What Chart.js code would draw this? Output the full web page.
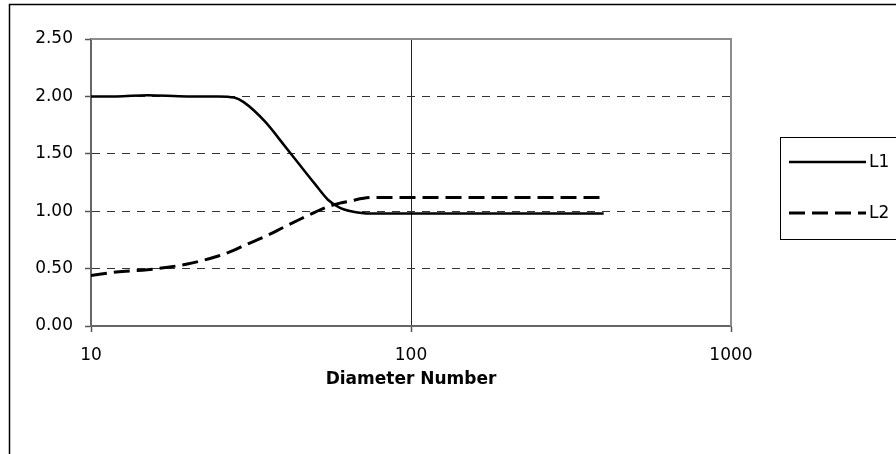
<!DOCTYPE html>
<html>
<head>
<meta charset="utf-8">
<title>Diameter Number</title>
<script src="https://cdn.jsdelivr.net/npm/chart.js@4.4.1/dist/chart.umd.min.js"></script>
<style>
    body { margin: 0; background: #ffffff; }
    #wrap { width: 896px; height: 454px; }
</style>
</head>
<body>
<div id="wrap"><canvas id="diamChart" width="896" height="454"></canvas></div>
<script>
// Valores (eje x logaritmico)
const diameters = [10, 12, 15, 20, 25, 28, 30, 35, 40, 45, 50, 55, 60, 65, 70, 75, 80, 100, 150, 200, 300, 400];
const l1Values = [2.00, 2.00, 2.01, 2.00, 2.00, 1.99, 1.95, 1.78, 1.58, 1.40, 1.24, 1.10, 1.03, 1.00, 0.985, 0.98, 0.98, 0.98, 0.98, 0.98, 0.98, 0.98];
const l2Values = [0.44, 0.47, 0.49, 0.54, 0.61, 0.66, 0.70, 0.78, 0.86, 0.93, 0.99, 1.04, 1.07, 1.09, 1.11, 1.12, 1.12, 1.12, 1.12, 1.12, 1.12, 1.12];
const xTicks = [10, 100, 1000];
const seriesNames = ['L1', 'L2'];

const FONT = "'DejaVu Sans', sans-serif";
const FONT_SIZE = 17;

function toPoints(values) {
    return diameters.map((d, i) => ({ x: d, y: values[i] }));
}

// Marco exterior, borde superior/derecho del area y leyenda con recuadro
const framePlugin = {
    id: 'frame',
    afterDraw(chart) {
        const ctx = chart.ctx;
        const area = chart.chartArea;
        ctx.save();

        // borde gris del area de trazado (arriba y derecha)
        ctx.strokeStyle = '#8c8c8c';
        ctx.lineWidth = 2;
        ctx.beginPath();
        ctx.moveTo(area.left, area.top);
        ctx.lineTo(area.right, area.top);
        ctx.lineTo(area.right, area.bottom);
        ctx.stroke();

        // marco exterior del grafico
        ctx.strokeStyle = '#000000';
        ctx.lineWidth = 1.5;
        ctx.strokeRect(9.5, 4.5, 1000, 1000);

        // leyenda
        ctx.lineWidth = 1;
        ctx.strokeRect(780.5, 137.5, 200, 102);
        const rows = [162, 213];
        chart.data.datasets.forEach((ds, i) => {
            ctx.strokeStyle = ds.borderColor;
            ctx.lineWidth = ds.borderWidth;
            ctx.setLineDash(ds.borderDash || []);
            ctx.beginPath();
            ctx.moveTo(789, rows[i]);
            ctx.lineTo(866, rows[i]);
            ctx.stroke();
            ctx.setLineDash([]);
            ctx.fillStyle = '#000000';
            ctx.font = FONT_SIZE + 'px ' + FONT;
            ctx.textAlign = 'left';
            ctx.textBaseline = 'middle';
            ctx.fillText(ds.label, 869, rows[i] + 1);
        });
        ctx.restore();
    }
};

const ctx = document.getElementById('diamChart').getContext('2d');
const diamChart = new Chart(ctx, {
    type: 'line',
    data: {
        datasets: [{
            label: seriesNames[0],
            data: toPoints(l1Values),
            borderColor: '#000000',
            borderWidth: 2.5,
            pointRadius: 0,
            cubicInterpolationMode: 'monotone',
            fill: false
        }, {
            label: seriesNames[1],
            data: toPoints(l2Values),
            borderColor: '#000000',
            borderWidth: 3,
            borderDash: [16, 7],
            pointRadius: 0,
            cubicInterpolationMode: 'monotone',
            fill: false
        }]
    },
    options: {
        responsive: false,
        animation: false,
        layout: {
            padding: { top: 39, right: 165, bottom: 64, left: 0 }
        },
        plugins: {
            legend: { display: false },
            tooltip: { enabled: false }
        },
        scales: {
            x: {
                type: 'logarithmic',
                min: 10,
                max: 1000,
                afterBuildTicks: (scale) => {
                    scale.ticks = xTicks.map(v => ({ value: v }));
                },
                afterFit: (scale) => { scale.height = 64; },
                ticks: {
                    color: '#000000',
                    font: { family: FONT, size: FONT_SIZE },
                    padding: 13,
                    maxRotation: 0,
                    autoSkip: false,
                    callback: (v) => String(v)
                },
                grid: {
                    color: '#222222',
                    lineWidth: 1,
                    tickLength: 6,
                    tickColor: '#555555',
                    tickWidth: 1.5
                },
                border: { color: '#666666', width: 2 },
                title: {
                    display: true,
                    text: 'Diameter Number',
                    color: '#000000',
                    font: { family: FONT, size: FONT_SIZE, weight: 'bold' },
                    padding: { top: 0, bottom: 0 }
                }
            },
            y: {
                min: 0,
                max: 2.5,
                afterFit: (scale) => { scale.width = 91; },
                ticks: {
                    stepSize: 0.5,
                    color: '#000000',
                    font: { family: FONT, size: FONT_SIZE },
                    padding: 12,
                    callback: (v) => v.toFixed(2)
                },
                grid: {
                    color: '#333333',
                    lineWidth: 1,
                    tickLength: 6,
                    tickColor: '#555555',
                    tickWidth: 1.5
                },
                border: { color: '#666666', width: 2, dash: [8, 7] }
            }
        }
    },
    plugins: [framePlugin]
});
</script>
</body>
</html>
